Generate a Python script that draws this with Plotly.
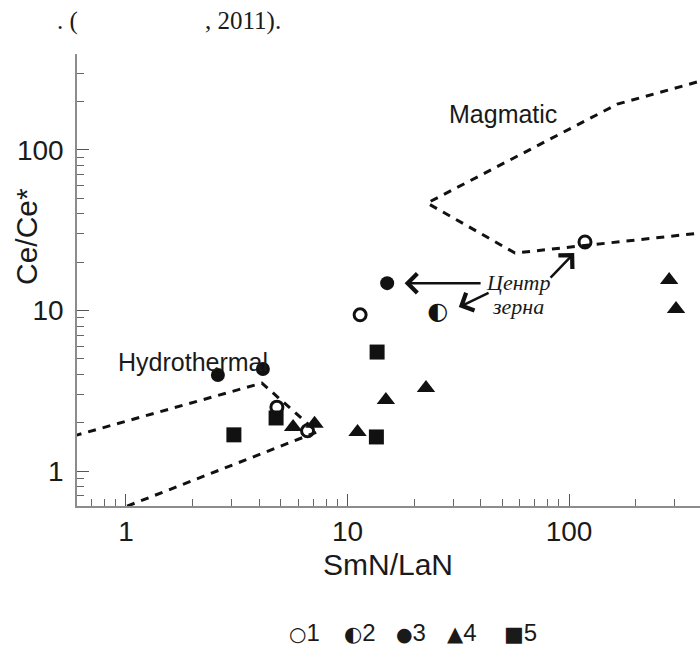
import numpy as np
import plotly.graph_objects as go

# ---------------- data ----------------
# series 1: open circles
s1_x = [4.8, 11.4, 118, 6.6]
s1_y = [2.50, 9.4, 26.7, 1.78]
# series 2: half-filled circles
s2_x = [25.6]
s2_y = [9.6]
# series 3: filled circles
s3_x = [2.6, 4.15, 15.1]
s3_y = [3.96, 4.32, 14.8]
# series 4: triangles
s4_x = [5.68, 7.1, 11.1, 14.9, 22.6, 283, 304]
s4_y = [1.88, 1.97, 1.75, 2.77, 3.29, 15.5, 10.2]
# series 5: squares
s5_x = [3.07, 4.76, 13.6, 13.5]
s5_y = [1.68, 2.14, 5.51, 1.63]

# field boundaries (dashed)
hydro_x = [0.5, 4.11, 7.28, 1.0]
hydro_y = [1.56, 3.53, 1.75, 0.60]
magma_x = [500, 57.0, 22.9, 165, 500]
magma_y = [31.5, 22.8, 46.7, 193, 295]

x_ticks = [1, 10, 100]
x_ticktext = ["1", "10", "100"]
y_ticks = [1, 10, 100]
y_ticktext = ["1", "10", "100"]
minor_vals = [0.7, 0.8, 0.9] + [2, 3, 4, 5, 6, 7, 8, 9] + [20, 30, 40, 50, 60, 70, 80, 90] + [200, 300]

legend_items = [("○", "1"), ("◐", "2"), ("●", "3"), ("▲", "4"), ("■", "5")]

# ---------------- figure ----------------
INK = "#111111"
TXT = "#1a1a1a"
SANS = "Liberation Sans, Arial, sans-serif"
SERIF = "Liberation Serif, Times New Roman, serif"

fig = go.Figure()
dash = "8px,7px"
fig.add_trace(go.Scatter(x=hydro_x, y=hydro_y, mode="lines",
                         line=dict(color=INK, width=3, dash=dash), showlegend=False, hoverinfo="skip"))
fig.add_trace(go.Scatter(x=magma_x, y=magma_y, mode="lines",
                         line=dict(color=INK, width=3, dash=dash), showlegend=False, hoverinfo="skip"))

fig.add_trace(go.Scatter(x=s5_x, y=s5_y, mode="markers", name="5",
                         marker=dict(symbol="square", size=15, color=INK, line=dict(width=0))))
fig.add_trace(go.Scatter(x=s4_x, y=s4_y, mode="markers", name="4",
                         marker=dict(symbol="triangle-up", size=16, color=INK, line=dict(width=0))))
fig.add_trace(go.Scatter(x=s3_x, y=s3_y, mode="markers", name="3",
                         marker=dict(symbol="circle", size=14, color=INK, line=dict(width=0))))
fig.add_trace(go.Scatter(x=s1_x, y=s1_y, mode="markers", name="1",
                         marker=dict(symbol="circle-open", size=12, color=INK, line=dict(width=3, color=INK))))
fig.add_trace(go.Scatter(x=s2_x, y=s2_y, mode="text", name="2", text=["◐"] * len(s2_x),
                         textposition="middle center",
                         textfont=dict(family="DejaVu Sans", size=24, color=INK)))

axis_common = dict(
    type="log", showgrid=False, zeroline=False, showline=True,
    linecolor="#8c8c8c", linewidth=1.5,
    ticks="inside", ticklen=12, tickwidth=1.2, tickcolor="#555555",
    tickfont=dict(family=SANS, size=28, color=TXT),
    tickmode="array",
    minor=dict(tickmode="array", tickvals=minor_vals, ticks="inside", ticklen=7,
               tickwidth=1, tickcolor="#666666", showgrid=False),
)

fig.update_xaxes(**axis_common, range=[-0.221, 2.591], tickvals=x_ticks, ticktext=x_ticktext)
fig.update_yaxes(**axis_common, range=[-0.218, 2.598], tickvals=y_ticks, ticktext=y_ticktext,
                 ticklabelstandoff=6)


def px_to_paper(px, py):
    return (px - 77) / 623, (506 - py) / 452


def text_ann(text, px, py, font, **kw):
    x, y = px_to_paper(px, py)
    d = dict(text=text, xref="paper", yref="paper", x=x, y=y, xanchor="center", yanchor="middle",
             showarrow=False, font=font)
    d.update(kw)
    return d


ann = []
ann.append(text_ann("Ce/Ce*", 26, 237, dict(family=SANS, size=30, color=TXT), textangle=-90))
ann.append(text_ann("SmN/LaN", 388, 564, dict(family=SANS, size=30, color=TXT)))
ann.append(text_ann("Magmatic", 503, 114, dict(family=SANS, size=25, color=TXT)))
ann.append(text_ann("Hydrothermal", 193, 362, dict(family=SANS, size=25, color=TXT)))
ann.append(text_ann("<i>Центр</i>", 518, 282, dict(family=SERIF, size=22, color=TXT)))
ann.append(text_ann("<i>зерна</i>", 518, 306, dict(family=SERIF, size=22, color=TXT)))

# arrows (head value, tail value) in data units
arrows = [((18.1, 14.8), (40.5, 14.8)),
          ((31.8, 10.5), (44.0, 13.0)),
          ((105.5, 22.8), (81.3, 15.7))]
for (hx, hy), (tx, ty) in arrows:
    ann.append(dict(text="", x=np.log10(hx), y=np.log10(hy), ax=np.log10(tx), ay=np.log10(ty),
                    xref="x", yref="y", axref="x", ayref="y", showarrow=True, font=dict(size=1),
                    arrowhead=4, arrowsize=1.5, arrowwidth=2.5, arrowcolor=INK, standoff=0))

# top text fragment
ann.append(dict(text=". (", xref="paper", yref="paper", x=(55 - 77) / 623, y=(506 - 21) / 452,
                xanchor="left", yanchor="middle", showarrow=False,
                font=dict(family=SERIF, size=25, color=TXT)))
ann.append(dict(text=", 2011).", xref="paper", yref="paper", x=(203 - 77) / 623, y=(506 - 21) / 452,
                xanchor="left", yanchor="middle", showarrow=False,
                font=dict(family=SERIF, size=25, color=TXT)))

# legend row
leg_centers = [304, 360, 411, 462, 520]
sym_sizes = [20, 21, 19, 21, 21]
for (sym, lab), cx, ss in zip(legend_items, leg_centers, sym_sizes):
    ann.append(text_ann(f'<span style="font-family:DejaVu Sans;font-size:{ss}px">{sym}</span>{lab}',
                        cx, 632, dict(family=SANS, size=24, color=TXT)))

fig.update_layout(
    width=700, height=652,
    margin=dict(l=77, r=0, t=54, b=146),
    plot_bgcolor="white", paper_bgcolor="white",
    showlegend=False,
    annotations=ann,
)

fig.write_html("out.html")
